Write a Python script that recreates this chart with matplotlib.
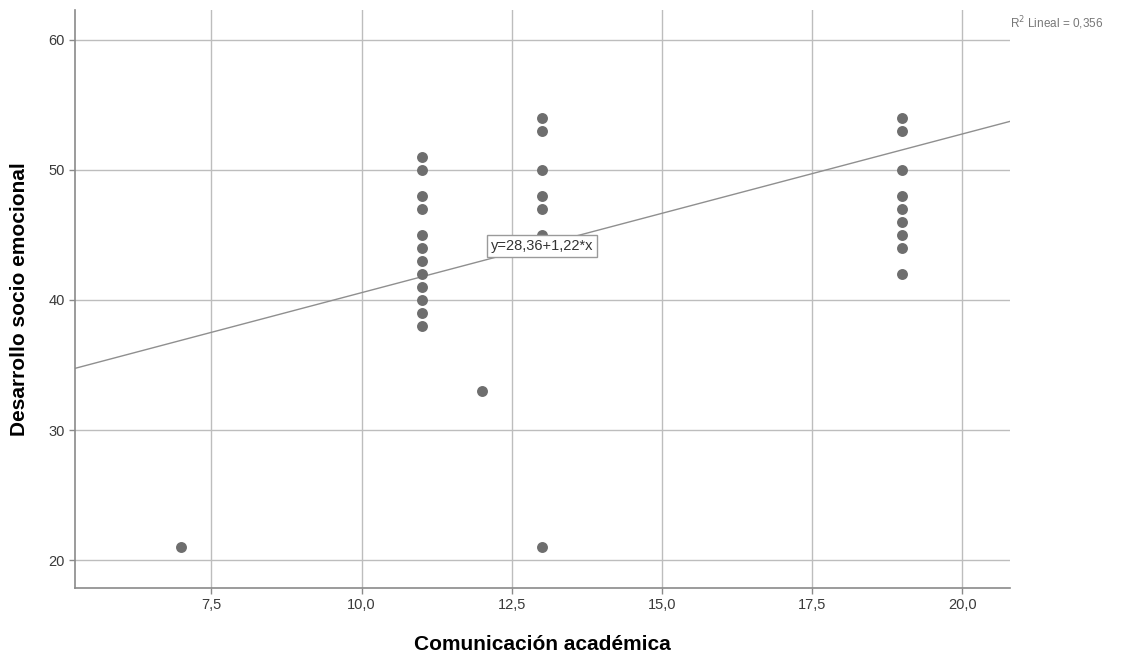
import matplotlib
matplotlib.use("Agg")
import matplotlib.pyplot as plt
import numpy as np

plt.rcParams['font.family'] = ['Liberation Sans', 'DejaVu Sans']

# datos
com_academica = [7,
                 11, 11, 11, 11, 11, 11, 11, 11, 11, 11, 11, 11,
                 12,
                 13, 13, 13, 13, 13, 13, 13,
                 19, 19, 19, 19, 19, 19, 19, 19, 19]
desarrollo = [21,
              51, 50, 48, 47, 45, 44, 43, 42, 41, 40, 39, 38,
              33,
              54, 53, 50, 48, 47, 45, 21,
              54, 53, 50, 48, 47, 46, 45, 44, 42]

intercepto = 28.36
pendiente = 1.22
r2 = 0.356
xlim = (5.23, 20.8)
ylim = (17.85, 62.3)
xticks = [7.5, 10.0, 12.5, 15.0, 17.5, 20.0]
yticks = [20, 30, 40, 50, 60]

fig = plt.figure(figsize=(11.31, 6.6), dpi=100)
ax = fig.add_axes([0.0663, 0.109, 0.827, 0.876])

ax.set_xlim(*xlim)
ax.set_ylim(*ylim)
ax.set_xticks(xticks)
ax.set_xticklabels([f"{t:.1f}".replace('.', ',') for t in xticks])
ax.set_yticks(yticks)
ax.set_yticklabels([str(t) for t in yticks])
ax.grid(True, color='#bdbdbd', linewidth=1.0)
ax.set_axisbelow(True)

for s in ['top', 'right']:
    ax.spines[s].set_visible(False)
for s in ['left', 'bottom']:
    ax.spines[s].set_color('#8a8a8a')
    ax.spines[s].set_linewidth(1.2)
ax.tick_params(colors='#8a8a8a', length=4, width=1, labelsize=10.5, labelcolor='#3a3a3a')

# recta de regresion
xx = np.array(xlim)
ax.plot(xx, intercepto + pendiente * xx, color='#8f8f8f', linewidth=1.0, zorder=2)

ax.scatter(com_academica, desarrollo, s=62, color='#6e6e6e', zorder=3, linewidths=0)

ax.text(13, 44.15, "y=28,36+1,22*x", ha='center', va='center', fontsize=10.5, color='#333333',
        zorder=4, bbox=dict(boxstyle='square,pad=0.25', facecolor='white', edgecolor='#9a9a9a', linewidth=1))

fig.text(0.893, 0.965, r"R$^2$ Lineal = " + f"{r2:.3f}".replace('.', ','), fontsize=8.5,
         color='#777777', ha='left', va='center')

ax.set_xlabel("Comunicación académica", fontsize=15, fontweight='bold', labelpad=16)
ax.set_ylabel("Desarrollo socio emocional", fontsize=15, fontweight='bold', labelpad=14)

fig.savefig("out.png", dpi=100)
